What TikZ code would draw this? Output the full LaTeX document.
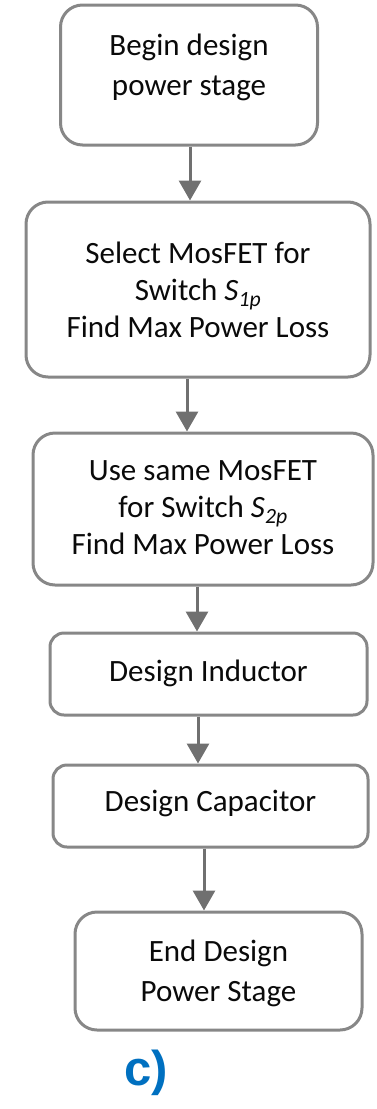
\documentclass[tikz,border=0pt]{standalone}
\usepackage{fontspec}
\setmainfont{Carlito}
\newfontfamily\labelfont{Liberation Sans}
\usetikzlibrary{arrows.meta}
\definecolor{boxgray}{RGB}{135,135,135}
\definecolor{arrgray}{RGB}{112,112,112}
\definecolor{capblue}{RGB}{0,112,192}
\definecolor{txtblack}{RGB}{10,10,10}
\begin{document}
\begin{tikzpicture}[x=1pt,y=1pt,
  box/.style={draw=boxgray, line width=3pt, rounded corners=22pt, inner sep=0pt, fill=white},
  sbox/.style={box, rounded corners=14pt},
  txt/.style={align=center, inner sep=0pt, text=txtblack, font=\fontsize{31}{37}\selectfont},
  txtw/.style={align=center, inner sep=0pt, text=txtblack, font=\fontsize{31}{40}\selectfont},
  arr/.style={draw=arrgray, line width=3pt, -{Triangle[length=20pt,width=22pt]}}]
\useasboundingbox (0,0) rectangle (377,-1109);
% boxes
\node[box, minimum width=257pt, minimum height=140pt] (b1) at (189,-75) {};
\node[txtw] (t1) at (189,-67) {Begin design\\power stage};
\node[box, minimum width=344pt, minimum height=175pt] (b2) at (198,-289.5) {};
\node[txt] (t2) at (198,-290) {Select MosFET for\\Switch \textit{S}\textsubscript{\textit{1p}}\\Find Max Power Loss};
\node[box, minimum width=340pt, minimum height=152pt] (b3) at (203,-509) {};
\node[txt] (t3) at (203,-508) {Use same MosFET\\for Switch \textit{S}\textsubscript{\textit{2p}}\\Find Max Power Loss};
\node[sbox, minimum width=317pt, minimum height=82pt] (b4) at (208.5,-674) {};
\node[txt] (t4) at (208.5,-673) {Design Inductor};
\node[sbox, minimum width=315pt, minimum height=82pt] (b5) at (210.5,-806) {};
\node[txt] (t5) at (210.5,-803) {Design Capacitor};
\node[box, minimum width=287pt, minimum height=118pt] (b6) at (218.5,-971) {};
\node[txtw] (t6) at (218.5,-973) {End Design\\Power Stage};
\node[inner sep=0pt, text=capblue, font=\labelfont\bfseries\fontsize{49}{54}\selectfont] (lab) at (146,-1073) {c)};
% arrow x positions
\coordinate (x1) at (190,0);
\coordinate (x2) at (187,0);
\coordinate (x3) at (197,0);
\coordinate (x4) at (198,0);
\coordinate (x5) at (204,0);
\draw[arr] (b1.south -| x1) -- (b2.north -| x1);
\draw[arr] (b2.south -| x2) -- (b3.north -| x2);
\draw[arr] (b3.south -| x3) -- (b4.north -| x3);
\draw[arr] (b4.south -| x4) -- (b5.north -| x4);
\draw[arr] (b5.south -| x5) -- (b6.north -| x5);
\end{tikzpicture}
\end{document}
